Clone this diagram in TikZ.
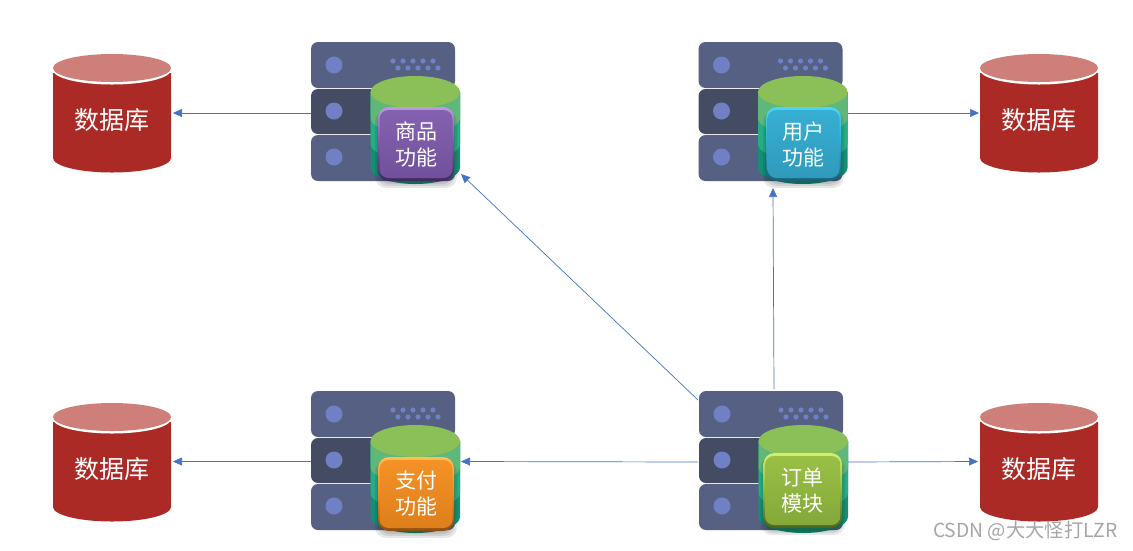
\documentclass[tikz,border=0pt]{standalone}
\usepackage{fontspec}
\setmainfont{Noto Sans CJK SC}
\usetikzlibrary{arrows.meta}
\definecolor{srvA}{HTML}{566082}
\definecolor{srvB}{HTML}{444C63}
\definecolor{srvDot}{HTML}{7080C4}
\definecolor{cylTop}{HTML}{8BBF57}
\definecolor{cylA}{HTML}{5FB87A}
\definecolor{cylB}{HTML}{25AD85}
\definecolor{cylC}{HTML}{148F75}
\definecolor{dbBody}{HTML}{AC2A25}
\definecolor{dbTop}{HTML}{CE7F79}
\definecolor{wire}{HTML}{4472C4}
\definecolor{purpleMain}{HTML}{7B58A8}
\definecolor{purpleLight}{HTML}{BC9AE2}
\definecolor{purpleDark}{HTML}{3E2A5C}
\definecolor{blueMain}{HTML}{33A8CC}
\definecolor{blueLight}{HTML}{4AD6F8}
\definecolor{blueDark}{HTML}{1A5F75}
\definecolor{orangeMain}{HTML}{F28A1E}
\definecolor{orangeLight}{HTML}{FFBE55}
\definecolor{orangeDark}{HTML}{8A4E12}
\definecolor{greenMain}{HTML}{8FB73E}
\definecolor{greenLight}{HTML}{D6EE72}
\definecolor{greenDark}{HTML}{4C6220}
\tikzset{
  wirearrow/.style={draw=wire,line width=0.7pt,-{Triangle[length=9pt,width=8pt]}},
  btntext/.style={text=white,font=\fontsize{21}{26}\selectfont,align=center,inner sep=0pt},
  dbtext/.style={text=white,font=\fontsize{25}{28}\selectfont,inner sep=0pt,minimum width=118,minimum height=118}
}
% name, dx, dy, label, colour, button x0, y0, x1, y1
\newcommand{\srv}[9]{%
  \fill[srvA,rounded corners=7] (311+#2,42+#3) rectangle (455+#2,88+#3);
  \fill[srvB,rounded corners=7] (311+#2,89+#3) rectangle (455+#2,134+#3);
  \fill[srvA,rounded corners=7] (311+#2,135+#3) rectangle (455+#2,181+#3);
  \foreach \cy in {65,111,157} \fill[srvDot] (334+#2,\cy+#3) circle (8.5);
  \foreach \i in {0,...,4} {
    \fill[srvDot] (393+10*\i+#2,61+#3) circle (2.6);
    \fill[srvDot] (398+10*\i+#2,68+#3) circle (2.6);
  }
  % stacked cylinder
  \fill[cylC] (370.5+#2,92+#3) -- (370.5+#2,168+#3) arc[start angle=180,end angle=0,x radius=44.75,y radius=16] -- (460+#2,92+#3) -- cycle;
  \fill[cylB] (370.5+#2,92+#3) -- (370.5+#2,144+#3) arc[start angle=180,end angle=0,x radius=44.75,y radius=16] -- (460+#2,92+#3) -- cycle;
  \fill[cylA] (370.5+#2,92+#3) -- (370.5+#2,118+#3) arc[start angle=180,end angle=0,x radius=44.75,y radius=16] -- (460+#2,92+#3) -- cycle;
  \fill[cylTop] (415.25+#2,92+#3) ellipse[x radius=44.75,y radius=16];
  % button with soft shadow
  \foreach \g in {6,4,2} \fill[black,opacity=0.09,rounded corners=11] (#6+3-\g,#7+4) rectangle (#8-3+\g,#9+1+\g);
  \shade[top color=#5Light,bottom color=#5Dark,middle color=#5Main,rounded corners=11] (#6,#7) rectangle (#8,#9);
  \shade[top color=#5Main!85!#5Light,bottom color=#5Main!92!black,rounded corners=9] (#6+1.5,#7+3) rectangle (#8-1.5,#9-3);
  \node[btntext] (#1) at ({(#6+#8)/2},{(#7+#9)/2}) {#4};
  \coordinate (#1-west) at (311+#2,113+#3);
}
% name, x of left edge, y of top
\newcommand{\dbase}[3]{%
  \fill[dbBody] (#2,#3+19) -- (#2,#3+104) arc[start angle=180,end angle=0,x radius=59,y radius=14.5] -- (#2+118,#3+19) -- cycle;
  \fill[white] (#2+59,#3+16) ellipse[x radius=59,y radius=14.5];
  \fill[dbTop] (#2+59,#3+14) ellipse[x radius=59,y radius=14];
  \node[dbtext] (#1) at (#2+59,#3+66) {数据库};
}
\begin{document}
\begin{tikzpicture}[x=1pt,y=-1pt]
\useasboundingbox (0,0) rectangle (1133,550);
\fill[white] (0,0) rectangle (1133,550);

\dbase{dbA}{53}{54}
\dbase{dbB}{980}{54}
\dbase{dbC}{53}{403}
\dbase{dbD}{980}{403}

\srv{goods}{0}{0}{商品\\功能}{purple}{378}{107}{454}{181}
\srv{user}{387.5}{0}{用户\\功能}{blue}{766}{107}{841}{181}
\srv{pay}{0}{349}{支付\\功能}{orange}{378}{457}{454}{531}
\srv{order}{388}{349}{订单\\模块}{green}{763.5}{453}{842}{528}

\coordinate (goodsIn) at (461,174);
\coordinate (orderOut) at (698,400);
\coordinate (userIn) at (773,188);
\coordinate (orderUp) at (774,389);
\coordinate (payIn) at (461,461.5);
\coordinate (orderLeft) at (698,462);
\coordinate (orderRight) at (848,462);
\coordinate (dbDIn) at (978,461.5);
\coordinate (dbCIn) at (173,461.5);
\coordinate (dbAIn) at (173,113);
\coordinate (dbBIn) at (979,113);
\coordinate (userOut) at (848,113);
\coordinate (payOut) at (311,461.5);

\draw[wirearrow] (goods-west) -- (dbAIn);
\draw[wirearrow] (userOut) -- (dbBIn);
\draw[wirearrow] (payOut) -- (dbCIn);
\draw[wirearrow] (orderRight) -- (dbDIn);
\draw[wirearrow] (orderLeft) -- (payIn);
\draw[wirearrow] (orderUp) -- (userIn);
\draw[wirearrow] (orderOut) -- (goodsIn);

\node[text=black!35,font=\fontsize{19.3}{22}\selectfont,inner sep=0pt,anchor=east] (mark) at (1118,531) {CSDN @大大怪打LZR};
\end{tikzpicture}
\end{document}
